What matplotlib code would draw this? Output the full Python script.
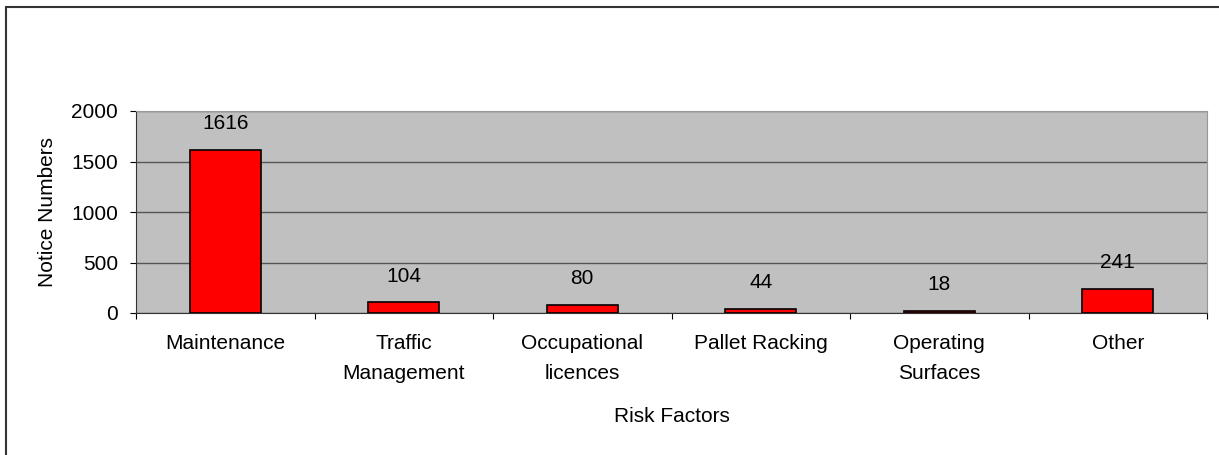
import matplotlib.pyplot as plt
import numpy as np
from matplotlib.patches import Rectangle

plt.rcParams['font.family'] = ['Liberation Sans', 'DejaVu Sans']

categories = ['Maintenance', 'Traffic\nManagement', 'Occupational\nlicences',
              'Pallet Racking', 'Operating\nSurfaces', 'Other']
notices = [1616, 104, 80, 44, 18, 241]
yticks = [0, 500, 1000, 1500, 2000]

W, H = 1219, 455
FS = 15
fig = plt.figure(figsize=(W / 100, H / 100), dpi=100)

# outer chart frame (runs off the right/bottom edge like the source)
fig.patches.append(Rectangle((6 / W, -0.05), 1.1, 1 - 7 / H + 0.05,
                             transform=fig.transFigure, fill=False,
                             edgecolor='#333333', linewidth=1.5))

left, right, top, bottom = 136, 1207, 111, 313
ax = fig.add_axes([left / W, 1 - bottom / H, (right - left) / W, (bottom - top) / H])
ax.set_facecolor('#C0C0C0')

x = np.arange(len(categories))
ax.bar(x, notices, width=0.4, color='#FF0000', edgecolor='black', linewidth=1.2, zorder=3)
for xi, v in zip(x, notices):
    ax.text(xi, v + 205, str(v), ha='center', va='baseline', fontsize=FS, zorder=4)

ax.set_xlim(-0.5, len(categories) - 0.5)
ax.set_ylim(0, 2000)
ax.set_yticks(yticks)
ax.set_yticklabels([str(t) for t in yticks], fontsize=FS)
ax.yaxis.grid(True, color='#555555', linewidth=1, zorder=1)
ax.set_axisbelow(True)

# x ticks sit between categories, labels under each bar
ax.set_xticks(np.arange(-0.5, len(categories)), minor=False)
ax.set_xticklabels([])
ax.set_xticks(x, minor=True)
ax.set_xticklabels(categories, minor=True, fontsize=FS, linespacing=1.77)
ax.tick_params(axis='x', which='major', length=4.3, direction='out')
ax.tick_params(axis='x', which='minor', length=0, pad=15)
ax.tick_params(axis='y', length=4.3, direction='out', pad=8.6)

for s in ['top', 'right']:
    ax.spines[s].set_color('#999999')
ax.spines['left'].set_color('#333333')
ax.spines['bottom'].set_color('#333333')

ax.set_ylabel('Notice Numbers', fontsize=FS, labelpad=10.5)
ax.set_xlabel('Risk Factors', fontsize=FS, labelpad=17)

fig.savefig('out.png', dpi=100)
